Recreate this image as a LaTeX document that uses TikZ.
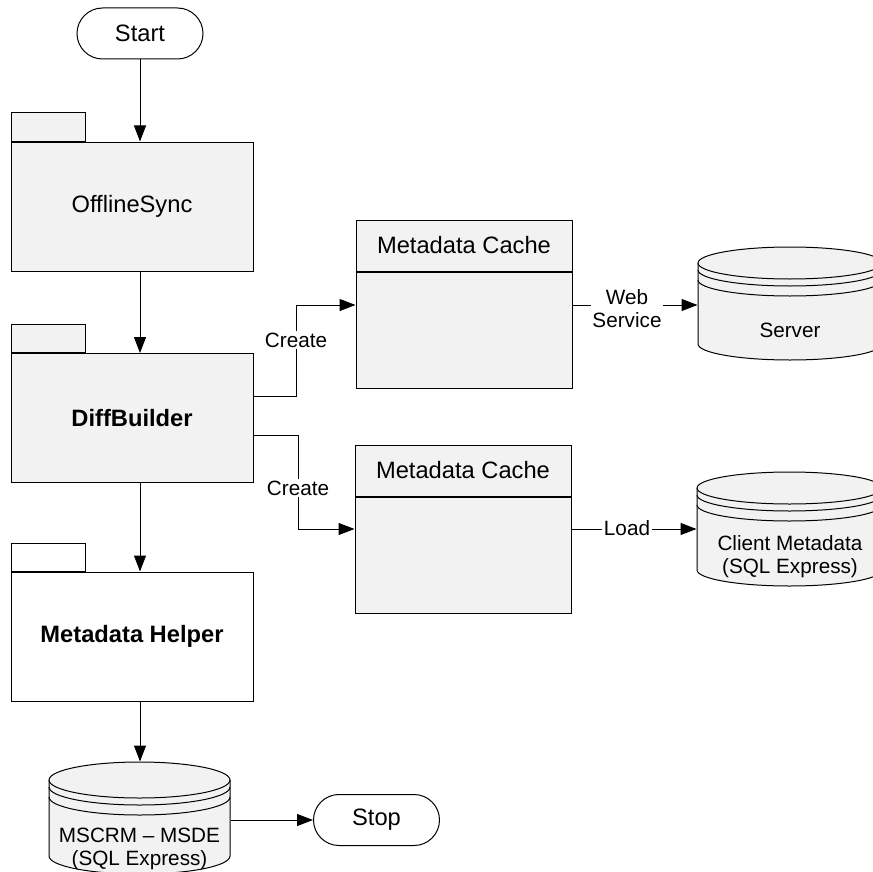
\documentclass[tikz,border=0pt]{standalone}
\usepackage{fontspec}
\setmainfont{Liberation Sans}
\usetikzlibrary{arrows.meta}
\definecolor{pkgfill}{HTML}{F2F2F2}
\newcommand\drawdb[5]{%
  \pgfmathsetmacro\dbrx{(#2-#1)/2}%
  \filldraw[fill=pkgfill] (#1,#3) -- (#1,#5) arc[start angle=180,end angle=360,x radius=\dbrx pt,y radius=#4pt] -- (#2,#3) arc[start angle=0,end angle=180,x radius=\dbrx pt,y radius=#4pt] -- cycle;
  \draw (#1,#3) arc[start angle=180,end angle=360,x radius=\dbrx pt,y radius=#4pt];
  \draw (#1,#3+7) arc[start angle=180,end angle=360,x radius=\dbrx pt,y radius=#4pt];
  \draw (#1,#3+17) arc[start angle=180,end angle=360,x radius=\dbrx pt,y radius=#4pt];
}
\begin{document}
\begin{tikzpicture}[x=1pt,y=-1pt, line width=1pt,
  every node/.style={font=\fontsize{23.7}{27}\selectfont},
  lbl/.style={font=\fontsize{20.7}{23}\selectfont, fill=white, inner sep=1.5pt, align=center},
  dbtext/.style={font=\fontsize{20.7}{23}\selectfont, align=center, inner sep=0pt},
  arr/.style={-{Triangle[length=16pt,width=12pt]}},
  term/.style={draw, rounded corners=25.5pt, minimum width=126pt, minimum height=51pt, inner sep=0pt},
  pkgbody/.style={draw, fill=pkgfill, minimum width=242pt, minimum height=129pt, inner sep=0pt},
  pkgtab/.style={draw, fill=pkgfill, minimum width=74pt, minimum height=28pt, inner sep=0pt, anchor=south west},
  cachehead/.style={draw, fill=pkgfill, minimum width=216pt, minimum height=51pt, inner sep=0pt},
  cachebody/.style={draw, fill=pkgfill, minimum width=216pt, minimum height=116pt, inner sep=0pt, anchor=north},
  dbbox/.style={inner sep=0pt}
]
\useasboundingbox (0,0) rectangle (872,872);

% terminals
\node[term] (start) at (140,33.5) {Start};
\node[term] (stop) at (376.5,820) {Stop};

% packages
\node[pkgbody] (offsync) at (132,206.5) {OfflineSync};
\node[pkgtab] (offtab) at (offsync.north west) {};
\node[pkgbody] (diff) at (132,418) {\textbf{DiffBuilder}};
\node[pkgtab] (difftab) at (diff.north west) {};
\node[pkgbody, fill=white] (mhelp) at (132,636.5) {\textbf{Metadata Helper}};
\node[pkgtab, fill=white] (mhelptab) at (mhelp.north west) {};

% metadata caches
\node[cachehead] (mc1h) at (464,245.5) {Metadata Cache};
\node[cachebody] (mc1) at (mc1h.south) {};
\node[cachehead] (mc2h) at (463,470.5) {Metadata Cache};
\node[cachebody] (mc2) at (mc2h.south) {};

% databases
\drawdb{698}{882}{263}{16}{344}
\node[dbbox, minimum width=184pt, minimum height=115pt] (server) at (790,304.5) {};
\node[dbtext] (servertxt) at (790,330) {Server};

\drawdb{697}{882}{488}{16}{570}
\node[dbbox, minimum width=185pt, minimum height=118pt] (client) at (789.5,531) {};
\node[dbtext] (clienttxt) at (790,556.5) {Client Metadata\\(SQL Express)};

\drawdb{49}{230}{780}{18}{856}
\node[dbbox, minimum width=181pt, minimum height=114pt] (mscrm) at (139.5,819) {};
\node[dbtext] (mscrmtxt) at (139.5,848.5) {MSCRM – MSDE\\(SQL Express)};

% main flow
\draw[arr] (start.south) -- (start.south |- offsync.north);
\draw[arr] (offsync.south -| start) -- (diff.north -| start);
\draw[arr] (diff.south -| start) -- (mhelp.north -| start);
\draw[arr] (mhelp.south -| start) -- (mscrm.north -| start);
\draw[arr] (stop.west -| mscrm.east) -- (stop.west);

% create connectors
\draw[arr] ([yshift=22pt]diff.east) -- ++(43,0) |- ([yshift=25pt]mc1.west);
\node[lbl] (create1) at (296,340) {Create};
\draw[arr] ([yshift=-17pt]diff.east) -- ++(45,0) |- ([yshift=26pt]mc2.west);
\node[lbl] (create2) at (298,488) {Create};

% web service / load
\draw[arr] ([yshift=25pt]mc1.east) coordinate (ws0) -- (ws0 -| server.west);
\node[lbl] (websvc) at (627,309) {Web\\Service};
\draw[arr] ([yshift=26pt]mc2.east) coordinate (ld0) -- (ld0 -| client.west);
\node[lbl] (load) at (627,528) {Load};
\end{tikzpicture}
\end{document}
